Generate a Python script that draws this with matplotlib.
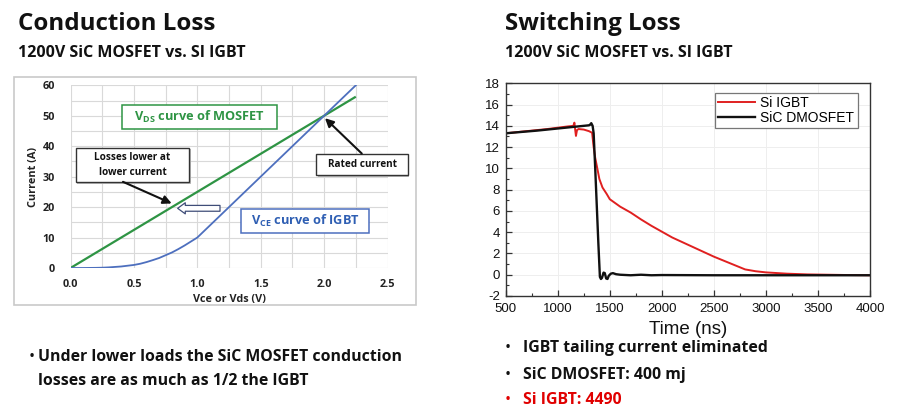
import numpy as np
import matplotlib
matplotlib.use("Agg")
import matplotlib.pyplot as plt
from matplotlib.patches import Rectangle

plt.rcParams['font.family'] = ['Open Sans', 'DejaVu Sans']
plt.rcParams['mathtext.fontset'] = 'custom'
plt.rcParams['mathtext.rm'] = 'Open Sans:bold'
plt.rcParams['axes.unicode_minus'] = False

# ---------------- data ----------------
# Conduction loss chart
v_mos = [0.0, 2.25]
i_mos = [0.0, 56.25]
v_igbt = [0.0, 0.1, 0.2, 0.25, 0.3, 0.35, 0.4, 0.45, 0.5, 0.55, 0.6, 0.65, 0.7, 0.75,
          0.8, 0.85, 0.9, 0.95, 1.0, 1.05, 1.1, 1.15, 1.2, 1.25, 1.5, 1.75, 2.0, 2.25]
i_igbt = [0.0, 0.0, 0.05, 0.1, 0.2, 0.35, 0.5, 0.75, 1.0, 1.4, 1.95, 2.6, 3.3, 4.2,
          5.1, 6.2, 7.4, 8.7, 10.0, 12.0, 14.0, 16.0, 18.0, 20.0, 30.0, 40.0, 50.0, 60.0]
cond_xticks = [0.0, 0.5, 1.0, 1.5, 2.0, 2.5]
cond_yticks = [0, 10, 20, 30, 40, 50, 60]

# Switching loss chart
t_igbt = [500, 700, 900, 1100, 1150, 1160, 1168, 1175, 1185, 1200, 1250, 1300, 1330,
          1345, 1360, 1380, 1400, 1430, 1470, 1500, 1600, 1700, 1800, 1900, 2000,
          2100, 2200, 2300, 2400, 2500, 2600, 2700, 2800, 2900, 3000, 3200, 3400,
          3600, 3800, 4000]
i_igbt_sw = [13.3, 13.5, 13.7, 13.95, 14.0, 14.3, 13.6, 13.05, 13.6, 13.7, 13.65, 13.5, 13.35,
             12.0, 11.0, 10.0, 9.0, 8.2, 7.6, 7.1, 6.4, 5.85, 5.2, 4.6, 4.05,
             3.5, 3.05, 2.6, 2.15, 1.7, 1.3, 0.9, 0.5, 0.33, 0.22, 0.1, 0.03,
             0.0, -0.03, -0.05]
t_mos = [500, 800, 1100, 1300, 1310, 1322, 1335, 1345, 1360, 1375, 1390, 1405, 1415,
         1425, 1440, 1452, 1465, 1478, 1490, 1510, 1530, 1560, 1600, 1700, 1800,
         1900, 2000, 2500, 3000, 3500, 4000]
i_mos_sw = [13.3, 13.55, 13.85, 14.05, 14.1, 14.25, 14.0, 13.3, 10.0, 6.5, 3.0, -0.2, -0.4,
            -0.3, 0.2, 0.15, -0.35, -0.4, -0.1, 0.1, 0.15, 0.05, 0.0, -0.05, 0.0,
            -0.05, -0.03, -0.05, -0.05, -0.05, -0.05]
sw_xticks = [500, 1000, 1500, 2000, 2500, 3000, 3500, 4000]
sw_yticks = [-2, 0, 2, 4, 6, 8, 10, 12, 14, 16, 18]

W, H = 900, 412
fig = plt.figure(figsize=(W / 100, H / 100), dpi=100)


def fbox(x0, y0, x1, y1):
    """pixel box (top-left origin) -> figure fraction rect"""
    return [x0 / W, 1 - y1 / H, (x1 - x0) / W, (y1 - y0) / H]


# ---------------- headings ----------------
fig.text(18 / W, 1 - 29.5 / H, "Conduction Loss", fontsize=17.4, fontweight='bold',
         color='#111111', va='baseline')
fig.text(18 / W, 1 - 56.7 / H, "1200V SiC MOSFET vs. SI IGBT", fontsize=11.5,
         fontweight='bold', color='#111111', va='baseline')
fig.text(505 / W, 1 - 29.5 / H, "Switching Loss", fontsize=17.4, fontweight='bold',
         color='#111111', va='baseline')
fig.text(505 / W, 1 - 56.7 / H, "1200V SiC MOSFET vs. SI IGBT", fontsize=11.5,
         fontweight='bold', color='#111111', va='baseline')

# bullets
bfs = 11.4
fig.text(32 / W, 1 - 361 / H, "•", fontsize=bfs, color='#111111', va='baseline',
         ha='center')
fig.text(38 / W, 1 - 361 / H, "Under lower loads the SiC MOSFET conduction", fontsize=bfs,
         fontweight='bold', color='#111111', va='baseline')
fig.text(38 / W, 1 - 385 / H, "losses are as much as 1/2 the IGBT", fontsize=bfs,
         fontweight='bold', color='#111111', va='baseline')
rb = [("IGBT tailing current eliminated", '#111111', 352.3),
      ("SiC DMOSFET: 400 mj", '#111111', 379),
      ("Si IGBT: 4490", '#e00000', 404.3)]
for txt, col, yb in rb:
    fig.text(508 / W, 1 - yb / H, "•", fontsize=bfs, color=col, va='baseline',
             ha='center')
    fig.text(523 / W, 1 - yb / H, txt, fontsize=bfs, fontweight='bold', color=col,
             va='baseline')

# ---------------- conduction loss chart ----------------
fig.patches.append(Rectangle((13.5 / W, 1 - 304.5 / H), 402.5 / W, 228 / H,
                             transform=fig.transFigure, fill=False,
                             ec='#c9c9c9', lw=1.2))

ax1 = fig.add_axes(fbox(70.5, 85.3, 387.5, 268))
ax1.set_xlim(0, 2.5)
ax1.set_ylim(0, 60)
ax1.set_xticks(np.arange(0, 2.51, 0.25), minor=True)
ax1.set_yticks(np.arange(0, 61, 5), minor=True)
ax1.set_xticks(cond_xticks)
ax1.set_yticks(cond_yticks)
ax1.set_xticklabels([f"{v:.1f}" for v in cond_xticks])
ax1.set_yticklabels([str(v) for v in cond_yticks])
ax1.grid(True, which='both', color='#d9d9d9', lw=0.8)
ax1.set_axisbelow(True)
for s in ax1.spines.values():
    s.set_visible(False)
ax1.tick_params(which='both', length=0)
ax1.tick_params(axis='y', pad=11)
ax1.tick_params(axis='x', pad=8)
for lab in ax1.get_xticklabels() + ax1.get_yticklabels():
    lab.set_fontsize(7.8)
    lab.set_fontweight('bold')
    lab.set_color('#222222')
ax1.set_xlabel("Vce or Vds (V)", fontsize=7.8, fontweight='bold', color='#222222',
               labelpad=3)
ax1.set_ylabel("Current (A)", fontsize=7.8, fontweight='bold', color='#222222',
               labelpad=3)

green = '#2e9444'
blue = '#4d6fbe'
ax1.plot(v_mos, i_mos, color=green, lw=1.6, solid_capstyle='butt')
ax1.plot(v_igbt, i_igbt, color=blue, lw=1.3)


def tbox(ax, x0, x1, y0, y1, ec, lw=1.0, shadow=False):
    if shadow:
        ax.add_patch(Rectangle((x0 + 0.012, y0 - 0.5), x1 - x0, y1 - y0, fc='#bbbbbb',
                               ec='none', clip_on=False, zorder=4))
    ax.add_patch(Rectangle((x0, y0), x1 - x0, y1 - y0, fc='white', ec=ec, lw=lw,
                           clip_on=False, zorder=5))


tbox(ax1, 0.408, 1.626, 45.6, 53.5, green, 1.1)
ax1.text(1.017, 49.5, r"V$_{\mathrm{DS}}$ curve of MOSFET", color=green, fontsize=9.2,
         fontweight='bold', ha='center', va='center', zorder=6)

tbox(ax1, 0.043, 0.935, 28.2, 39.5, '#333333', 1.0, shadow=True)
ax1.text(0.489, 33.9, "Losses lower at\nlower current", color='#111111', fontsize=7.2,
         fontweight='bold', ha='center', va='center', linespacing=1.5, zorder=6)

tbox(ax1, 1.94, 2.66, 30.5, 37.4, '#333333', 1.0, shadow=True)
ax1.text(2.30, 34.0, "Rated current", color='#111111', fontsize=7.2, fontweight='bold',
         ha='center', va='center', zorder=6)

tbox(ax1, 1.342, 2.355, 11.4, 19.3, blue, 1.1)
ax1.text(1.85, 15.3, r"V$_{\mathrm{CE}}$ curve of IGBT", color='#2f5fb3', fontsize=9.2,
         fontweight='bold', ha='center', va='center', zorder=6)

ax1.annotate('', xy=(0.798, 21.2), xytext=(0.414, 28.3),
             arrowprops=dict(arrowstyle='-|>,head_length=0.5,head_width=0.25',
                             color='#111111', lw=1.5, shrinkA=0, shrinkB=0),
             zorder=7)
ax1.annotate('', xy=(2.007, 49.2), xytext=(2.297, 37.6),
             arrowprops=dict(arrowstyle='-|>,head_length=0.5,head_width=0.25',
                             color='#111111', lw=1.5, shrinkA=0, shrinkB=0),
             zorder=7)
ax1.annotate('', xy=(0.845, 19.6), xytext=(1.179, 19.6),
             arrowprops=dict(arrowstyle='simple,head_length=0.55,head_width=0.8,tail_width=0.42',
                             fc='white', ec='#3f4d78', lw=0.9, shrinkA=0, shrinkB=0,
                             mutation_scale=10),
             zorder=7)

# ---------------- switching loss chart ----------------
ax2 = fig.add_axes(fbox(505.7, 83.3, 870, 296))
ax2.set_xlim(500, 4000)
ax2.set_ylim(-2, 18)
ax2.set_xticks(sw_xticks)
ax2.set_yticks(sw_yticks)
ax2.set_xticks(np.arange(500, 4001, 250), minor=True)
ax2.set_yticks(np.arange(-2, 18.1, 1), minor=True)
ax2.grid(True, which='major', color='#eeeeee', lw=0.7)
ax2.set_axisbelow(True)
for s in ax2.spines.values():
    s.set_color('#333333')
    s.set_linewidth(1.0)
ax2.tick_params(which='both', direction='in', color='#333333', labelsize=9.5,
                labelcolor='#111111', labelfontfamily='Liberation Sans')
ax2.tick_params(which='major', length=4, width=0.9)
ax2.tick_params(which='minor', length=2.5, width=0.8)
ax2.tick_params(axis='x', pad=5)
ax2.tick_params(axis='y', pad=4)
ax2.tick_params(top=False, right=False, which='both')
ax2.set_xlabel("Time (ns)", fontsize=13.5, family='Liberation Sans', color='#111111',
               labelpad=4)

ax2.plot(t_igbt, i_igbt_sw, color='#e02020', lw=1.4, label='Si IGBT')
ax2.plot(t_mos, i_mos_sw, color='#111111', lw=1.7, label='SiC DMOSFET')
leg = ax2.legend(loc='upper right', bbox_to_anchor=(0.966, 0.956), borderaxespad=0,
                 prop={'family': 'Liberation Sans', 'size': 10}, fancybox=False,
                 framealpha=1, edgecolor='#777777', handlelength=2.6,
                 handletextpad=0.4, labelspacing=0.05, borderpad=0.25)
leg.get_frame().set_linewidth(0.9)

fig.savefig("out.png", dpi=100)
